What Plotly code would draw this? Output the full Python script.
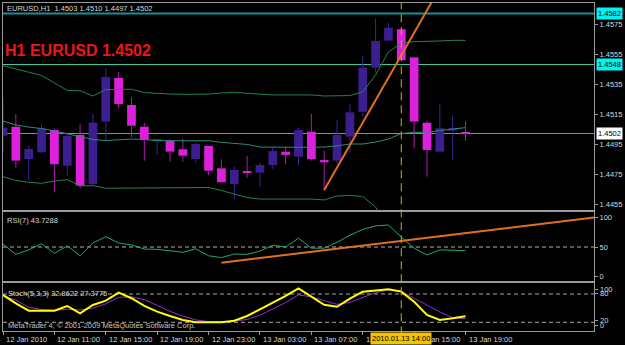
import plotly.graph_objects as go

# ---------------- data ----------------
hours = list(range(37))  # H1 bars from 12 Jan 07:00 to 13 Jan 19:00
opens = [1.45005, 1.45065, 1.44850, 1.44895, 1.45043, 1.44805, 1.45010, 1.44683, 1.45099, 1.45390,
         1.45210, 1.45065, 1.44970, 1.44972, 1.44915, 1.44850, 1.44937, 1.44788, 1.44683, 1.44770,
         1.44759, 1.44810, 1.44899, 1.44865, 1.45032, 1.44843, 1.44839, 1.44999, 1.45165, 1.45459,
         1.45639, 1.45715, 1.45528, 1.45092, 1.44899, 1.45039, 1.45030]
highs = [1.45257, 1.45150, 1.44937, 1.45088, 1.45055, 1.45028, 1.45083, 1.45150, 1.45455, 1.45430,
         1.45261, 1.45092, 1.44985, 1.44983, 1.44983, 1.44959, 1.44940, 1.44848, 1.44799, 1.44870,
         1.44825, 1.44928, 1.44928, 1.45061, 1.45150, 1.44905, 1.45110, 1.45217, 1.45537, 1.45788,
         1.45759, 1.45725, 1.45530, 1.45105, 1.45217, 1.45137, 1.45100]
lows = [1.44890, 1.44792, 1.44710, 1.44888, 1.44632, 1.44737, 1.44655, 1.44677, 1.44977, 1.45188,
        1.44995, 1.44839, 1.44877, 1.44832, 1.44832, 1.44821, 1.44743, 1.44688, 1.44581, 1.44725,
        1.44661, 1.44783, 1.44815, 1.44810, 1.44839, 1.44639, 1.44821, 1.44892, 1.45132, 1.45425,
        1.45635, 1.45510, 1.44921, 1.44732, 1.44895, 1.44843, 1.44970]
closes = [1.45059, 1.44839, 1.44917, 1.45055, 1.44815, 1.45005, 1.44672, 1.45092, 1.45397, 1.45217,
          1.45072, 1.44977, 1.44983, 1.44899, 1.44872, 1.44950, 1.44772, 1.44695, 1.44777, 1.44759,
          1.44810, 1.44903, 1.44877, 1.45043, 1.44850, 1.44828, 1.45010, 1.45161, 1.45459, 1.45637,
          1.45725, 1.45510, 1.45099, 1.44910, 1.45055, 1.45055, 1.45020]

bb_upper = [1.45472, 1.45450, 1.45430, 1.45407, 1.45357, 1.45307, 1.45305, 1.45270, 1.45313, 1.45315,
            1.45315, 1.45293, 1.45287, 1.45283, 1.45281, 1.45281, 1.45283, 1.45290, 1.45295, 1.45288,
            1.45280, 1.45277, 1.45277, 1.45277, 1.45277, 1.45270, 1.45270, 1.45273, 1.45297, 1.45410,
            1.45563, 1.45623, 1.45632, 1.45632, 1.45637, 1.45641, 1.45641]
bb_middle = [1.45103, 1.45077, 1.45063, 1.45053, 1.45037, 1.45017, 1.44997, 1.44980, 1.44973, 1.44980,
             1.44983, 1.44980, 1.44973, 1.44972, 1.44972, 1.44972, 1.44972, 1.44961, 1.44953, 1.44947,
             1.44930, 1.44928, 1.44928, 1.44928, 1.44928, 1.44930, 1.44937, 1.44950, 1.44950, 1.44963,
             1.44983, 1.45020, 1.45028, 1.45028, 1.45040, 1.45048, 1.45059]
bb_lower = [1.44732, 1.44707, 1.44695, 1.44688, 1.44703, 1.44713, 1.44670, 1.44673, 1.44655, 1.44655,
            1.44655, 1.44655, 1.44655, 1.44655, 1.44655, 1.44655, 1.44660, 1.44640, 1.44617, 1.44593,
            1.44583, 1.44583, 1.44585, 1.44585, 1.44583, 1.44577, 1.44603, 1.44607, 1.44600, 1.44530,
            1.44377, 1.44363, 1.44390, 1.44390, 1.44430, 1.44443, 1.44470]

rsi = [55, 37.5, 45, 55.6, 39, 52, 35, 57, 67.5, 57,
       53.5, 46.5, 46, 43, 41, 47, 35, 32, 38, 37.5,
       43, 53, 50, 65, 48, 48, 58, 70, 80, 86,
       87.5, 67, 48, 36.5, 45, 44.5, 43.7288]
stoch_main = [78, 60, 44.6, 44.6, 44.6, 54.6, 39, 56.7, 66, 83,
              71, 54.6, 42.5, 33.4, 25, 20, 20, 20, 23.4, 33.4,
              47.6, 61.6, 76, 92, 75, 57, 53, 70, 85, 88,
              90, 85, 63.7, 35.5, 25, 28.5, 32.8622]
stoch_signal = [76, 67, 52, 47, 45.5, 47.6, 46, 50, 59, 73,
                74, 68, 56, 43, 33, 25, 21.5, 21, 22.5, 26,
                35, 48, 62, 78, 74, 66, 58, 62, 72, 83,
                89, 86, 71, 56, 42, 30, 27.3775]

trend_main_x = [25, 34]
trend_main_y = [1.44643, 1.45991]
trend_rsi_x = [17, 46]
trend_rsi_y = [23.2, 100.3]

level_lines = [1.4582, 1.4548]
bid_price = 1.4502
cursor_bar = 31
cursor_label = "2010.01.13 14:00"

price_ticks = [1.4455, 1.4475, 1.4495, 1.4515, 1.4535, 1.4555, 1.4575]
time_tick_pos = [0, 4, 8, 12, 16, 20, 24, 28, 32, 36]
time_tick_labels = ["12 Jan 2010", "12 Jan 11:00", "12 Jan 15:00", "12 Jan 19:00", "12 Jan 23:00",
                    "13 Jan 03:00", "13 Jan 07:00", "13 Jan 11:00", "13 Jan 15:00", "13 Jan 19:00"]
rsi_ticks = [0, 50, 100]
stoch_label_pos = [89.5, 80, 23, 13]
stoch_label_text = ["100", "80", "20", "0"]

# ---------------- style ----------------
FONT = "Liberation Sans"
UP_BODY, UP_WICK = "#3C1E8E", "#3E2496"
DN_BODY, DN_WICK = "#DC20DC", "#B018B0"
BAND = "#23824F"
MID = "#2A8C7A"
AXIS = "#9a9a9a"
TXT = "#D6D6D6"
FS = 7.5

# plot area: x 3..594, y 3..331 px
def py(px):
    return (331 - px) / 328.0

def pxx(px):
    return (px - 3) / 591.0

fig = go.Figure()

up = [i for i in hours if closes[i] >= opens[i]]
dn = [i for i in hours if closes[i] < opens[i]]

def wicks(idx):
    xs, ys = [], []
    for i in idx:
        top = max(opens[i], closes[i])
        bot = min(opens[i], closes[i])
        xs += [hours[i], hours[i], None, hours[i], hours[i], None]
        ys += [highs[i], top, None, bot, lows[i], None]
    return xs, ys

for idx, body, wick in [(up, UP_BODY, UP_WICK), (dn, DN_BODY, DN_WICK)]:
    fig.add_trace(go.Bar(
        x=[hours[i] for i in idx],
        y=[abs(closes[i] - opens[i]) for i in idx],
        base=[min(opens[i], closes[i]) for i in idx],
        width=0.68, marker=dict(color=body, line=dict(width=0)),
        xaxis="x", yaxis="y", hoverinfo="skip"))
for idx, body, wick in [(up, UP_BODY, UP_WICK), (dn, DN_BODY, DN_WICK)]:
    wx, wy = wicks(idx)
    fig.add_trace(go.Scatter(x=wx, y=wy, mode="lines", line=dict(color=wick, width=1),
                             xaxis="x", yaxis="y", hoverinfo="skip"))

fig.add_trace(go.Scatter(x=hours, y=bb_upper, mode="lines", line=dict(color=BAND, width=1), xaxis="x", yaxis="y"))
fig.add_trace(go.Scatter(x=hours, y=bb_lower, mode="lines", line=dict(color=BAND, width=1), xaxis="x", yaxis="y"))
fig.add_trace(go.Scatter(x=hours, y=bb_middle, mode="lines", line=dict(color=MID, width=1), xaxis="x", yaxis="y"))
fig.add_trace(go.Scatter(x=trend_main_x, y=trend_main_y, mode="lines", line=dict(color="#E0701E", width=2), xaxis="x", yaxis="y"))

# RSI
fig.add_trace(go.Scatter(x=hours, y=rsi, mode="lines", line=dict(color="#22A86E", width=1), xaxis="x2", yaxis="y2"))
fig.add_trace(go.Scatter(x=trend_rsi_x, y=trend_rsi_y, mode="lines", line=dict(color="#E0701E", width=2), xaxis="x2", yaxis="y2"))

# Stochastic
fig.add_trace(go.Scatter(x=hours, y=stoch_signal, mode="lines", line=dict(color="#9030D0", width=1), xaxis="x3", yaxis="y3"))
fig.add_trace(go.Scatter(x=hours, y=stoch_main, mode="lines", line=dict(color="#FFFF00", width=2), xaxis="x3", yaxis="y3"))

shapes = []
shapes.append(dict(type="line", xref="paper", yref="y", x0=0, x1=1, y0=level_lines[0], y1=level_lines[0],
                   line=dict(color="#17909C", width=2), layer="below"))
shapes.append(dict(type="line", xref="paper", yref="y", x0=0, x1=1, y0=level_lines[1], y1=level_lines[1],
                   line=dict(color="#3CC8A4", width=1), layer="below"))
shapes.append(dict(type="line", xref="paper", yref="y", x0=0, x1=1, y0=bid_price, y1=bid_price,
                   line=dict(color="#8C8C8C", width=1), layer="below"))
shapes.append(dict(type="line", xref="paper", yref="y2", x0=0, x1=1, y0=50, y1=50,
                   line=dict(color="#B4B49C", width=1, dash="4px,3px"), layer="below"))
for lv in [80, 20]:
    shapes.append(dict(type="line", xref="paper", yref="y3", x0=0, x1=1, y0=lv, y1=lv,
                       line=dict(color="#A8A8A8", width=1, dash="4px,3px"), layer="below"))
shapes.append(dict(type="line", xref="x", yref="paper", x0=cursor_bar, x1=cursor_bar, y0=-0.01, y1=1,
                   line=dict(color="#DAA520", width=1, dash="8px,5px"), layer="above"))

ann = []
def text(x, y, s, size=FS, color=TXT, xanchor="left", **kw):
    d = dict(xref="paper", yref="paper", x=x, y=y, text=s, showarrow=False, xanchor=xanchor,
             yanchor="middle", font=dict(family=FONT, size=size, color=color))
    d.update(kw)
    ann.append(d)

text(pxx(5), py(8.5), "EURUSD,H1\u00a0 1.4503 1.4510 1.4497 1.4502")
text(pxx(3), py(50.5), "<b>H1 EURUSD 1.4502</b>", size=16, color="#EE1515")
text(pxx(5), py(220), "RSI(7) 43.7288")
text(pxx(6), py(293), "Stoch(5,3,3) 32.8622 27.3775")
text(pxx(6), py(325), "MetaTrader 4, © 2001-2009 MetaQuotes Software Corp.", color="#C4C4C4")

# boxed price labels on the right axis
for val, bg in [(level_lines[0], "#00F2F2"), (level_lines[1], "#00F2F2"), (bid_price, "#FFFFFF")]:
    ann.append(dict(xref="paper", yref="y", x=pxx(596), y=val, text=f"{val:.4f}", showarrow=False,
                    xanchor="left", yanchor="middle", bgcolor=bg, borderpad=1,
                    font=dict(family=FONT, size=FS, color="#000000")))

# stochastic scale labels
for v, s in zip(stoch_label_pos, stoch_label_text):
    ann.append(dict(xref="paper", yref="y3", x=pxx(598), y=v, text=s, showarrow=False,
                    xanchor="left", yanchor="middle", font=dict(family=FONT, size=FS, color=TXT)))

# time labels (left aligned after tick)
for pos, lab in zip(time_tick_pos, time_tick_labels):
    ann.append(dict(xref="x3", yref="paper", x=pos, y=py(339), text=lab, showarrow=False,
                    xanchor="left", yanchor="middle", xshift=1,
                    font=dict(family=FONT, size=FS, color=TXT)))
# cursor time box
ann.append(dict(xref="x3", yref="paper", x=cursor_bar, y=py(338.5), text=cursor_label, showarrow=False,
                xanchor="center", yanchor="middle", bgcolor="#F2C400", borderpad=1,
                font=dict(family=FONT, size=FS, color="#000000")))

XR = [0, 46]
base_x = dict(range=XR, showgrid=False, zeroline=False, showline=True, mirror=True,
              linecolor=AXIS, linewidth=1, showticklabels=False, ticks="", fixedrange=True)
base_y = dict(side="right", showgrid=False, zeroline=False, showline=True, mirror=True,
              linecolor=AXIS, linewidth=1, ticks="outside", ticklen=3, tickcolor=AXIS,
              tickfont=dict(family=FONT, size=FS, color=TXT), fixedrange=True)

fig.update_layout(
    width=625, height=345, autosize=False,
    margin=dict(l=3, r=31, t=3, b=14),
    paper_bgcolor="#000000", plot_bgcolor="#000000",
    showlegend=False, barmode="overlay", hovermode=False,
    xaxis=dict(base_x, anchor="y"),
    yaxis=dict(base_y, anchor="x", domain=[0.36890, 1.0], range=[1.4451, 1.4589],
               tickvals=price_ticks, ticktext=[f"{v:.4f}" for v in price_ticks]),
    xaxis2=dict(base_x, anchor="y2"),
    yaxis2=dict(base_y, anchor="x2", domain=[0.15244, 0.36280], range=[-8.0, 109.7],
                tickvals=rsi_ticks, ticktext=[str(v) for v in rsi_ticks]),
    xaxis3=dict(base_x, anchor="y3", ticks="outside", ticklen=3, tickcolor=AXIS, tickvals=time_tick_pos),
    yaxis3=dict(base_y, anchor="x3", domain=[0.0, 0.14634], range=[1.56, 103.3],
                tickvals=stoch_label_pos, showticklabels=False),
    shapes=shapes, annotations=ann,
)

fig.write_html("out.html")
